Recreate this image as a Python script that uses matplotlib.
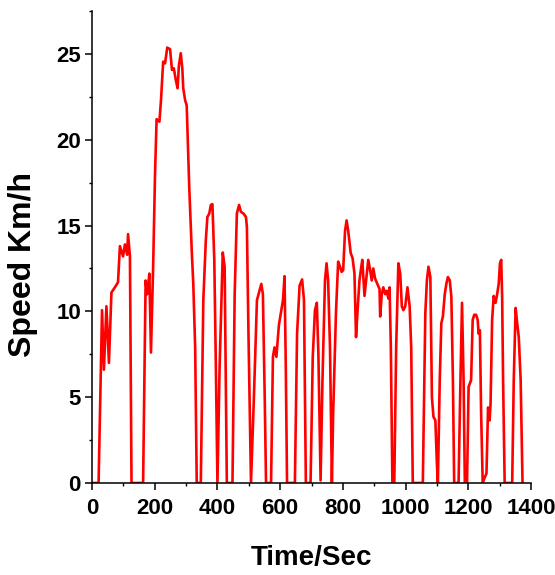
import matplotlib
matplotlib.use('Agg')
import matplotlib.pyplot as plt
import numpy as np

#------------ DATA ----------------------------
# Time (s) and speed (km/h).
time_s = [0, 21, 32, 38, 46, 54, 62, 73, 83, 89, 99, 105, 112, 115, 121, 126,
          163, 171, 176, 183, 188, 195, 201, 206, 215, 220, 227, 233, 240, 249,
          255, 261, 267, 273, 277, 283, 288, 291, 297, 302, 310, 318, 323, 329,
          334, 347, 355, 363, 368, 374, 379, 384, 390, 395, 400, 407, 417, 423,
          430, 448, 455, 462, 469, 475, 483, 491, 494, 499, 507, 516, 526, 534,
          540, 545, 551, 555, 571, 577, 582, 588, 596, 604, 609, 614, 618, 622,
          647, 654, 662, 670, 676, 682, 697, 704, 711, 717, 722, 729, 735, 743,
          748, 753, 759, 765, 769, 778, 785, 791, 796, 801, 807, 812, 817, 825,
          831, 837, 842, 847, 853, 858, 862, 869, 874, 881, 887, 892, 897, 903,
          910, 917, 919, 924, 929, 935, 940, 945, 949, 953, 958, 964, 970, 977,
          983, 988, 993, 999, 1006, 1013, 1018, 1023, 1055, 1063, 1068, 1073,
          1079, 1084, 1089, 1095, 1100, 1103, 1109, 1114, 1119, 1125, 1130,
          1135, 1141, 1146, 1151, 1155, 1169, 1175, 1180, 1185, 1189, 1196,
          1201, 1209, 1214, 1219, 1225, 1230, 1233, 1237, 1241, 1246, 1253,
          1258, 1263, 1268, 1271, 1276, 1281, 1287, 1292, 1297, 1301, 1305,
          1308, 1311, 1316, 1340, 1345, 1351, 1356, 1361, 1367, 1373]

speed_kmh = [0, 0, 10.07, 6.6, 10.3, 7.0, 11.1, 11.4, 11.7, 13.8, 13.2, 13.9, 13.3, 14.5, 13.2, 0,
             0, 11.8, 11.0, 12.2, 7.6, 12.6, 18.0, 21.2, 21.05, 22.3, 24.55, 24.45, 25.37, 25.27,
             24.07, 24.16, 23.5, 23.0, 24.3, 25.04, 24.16, 23.0, 22.3, 22.0, 17.3, 13.57, 11.6, 7.9,
             0, 0, 10.65, 14.15, 15.5, 15.7, 16.2, 16.25, 13.0, 6.8, 0, 6.8, 13.43, 12.6,
             0, 0, 11.0, 15.7, 16.2, 15.8, 15.7, 15.5, 14.9, 8.7, 0, 4.8, 10.65, 11.2,
             11.6, 11.0, 4.8, 0, 0, 7.35, 7.9, 7.35, 9.2, 10.07, 10.65, 12.05, 6.8, 0,
             0, 8.7, 11.5, 11.86, 10.65, 0, 0, 7.35, 10.07, 10.5, 7.5, 0.15, 6.0, 11.8,
             12.8, 11.8, 7.9, 0, 4.0, 9.9, 12.9, 12.6, 12.3, 12.4, 14.7, 15.3, 14.7, 13.4,
             13.1, 12.2, 8.5, 10.07, 11.8, 12.5, 13.0, 10.9, 11.8, 13.0, 12.4, 11.8, 12.5, 11.9,
             11.6, 11.3, 9.7, 11.0, 11.4, 11.0, 11.2, 10.75, 11.4, 7.9, 0, 0, 7.9, 12.8,
             12.2, 10.3, 10.07, 10.3, 11.4, 10.3, 7.9, 0, 0, 9.9, 11.8, 12.6,
             12.0, 5.0, 3.85, 3.65, 1.1, 0, 6.0, 9.3, 9.7, 11.0, 11.6,
             12.0, 11.8, 10.85, 6.0, 0, 0, 6.0, 10.5, 6.0, 0, 0,
             5.6, 6.0, 9.5, 9.8, 9.8, 9.5, 8.7, 8.9, 4.0, 0, 0.35,
             0.55, 4.4, 3.65, 4.6, 9.5, 10.9, 10.5, 11.0, 11.6, 12.8, 13.0,
             10.85, 6.0, 0, 0, 6.0, 10.2, 9.3, 8.5, 6.0, 0]

x_ticks = [0, 200, 400, 600, 800, 1000, 1200, 1400]
y_ticks = [0, 5, 10, 15, 20, 25]

#------------ DRAW ----------------------------
font = ['Liberation Sans', 'DejaVu Sans']

fig = plt.figure(figsize=(5.55, 5.75), dpi=100)
ax = fig.add_axes([92/555, 92/575, 439/555, 472/575])

ax.plot(time_s, speed_kmh, color='#ff0000', linewidth=1.9)

ax.set_xlim(0, 1400)
ax.set_ylim(0, 27.5)

ax.spines['top'].set_visible(False)
ax.spines['right'].set_visible(False)
ax.spines['left'].set_linewidth(1.1)
ax.spines['bottom'].set_linewidth(1.1)

# Ticks
ax.set_xticks(x_ticks)
ax.set_xticks(np.arange(0, 1401, 100), minor=True)
ax.set_yticks(y_ticks)
ax.set_yticks(np.arange(0, 27.6, 2.5), minor=True)
ax.tick_params(which='major', direction='out', length=5, width=1.1)
ax.tick_params(which='minor', direction='out', length=2.5, width=1.0)
ax.tick_params(axis='x', which='major', pad=6)
ax.tick_params(axis='y', which='major', pad=3)

for lbl in ax.get_xticklabels() + ax.get_yticklabels():
    lbl.set_family(font)
    lbl.set_fontweight('bold')
    lbl.set_fontsize(16)

# Labels
ax.set_xlabel('Time/Sec', family=font, fontweight='bold', fontsize=20)
ax.set_ylabel('Speed Km/h', family=font, fontweight='bold', fontsize=23)
ax.xaxis.set_label_coords(0.5, -0.131)
ax.yaxis.set_label_coords(-0.123, 0.462)

fig.savefig('out.png', dpi=100)
